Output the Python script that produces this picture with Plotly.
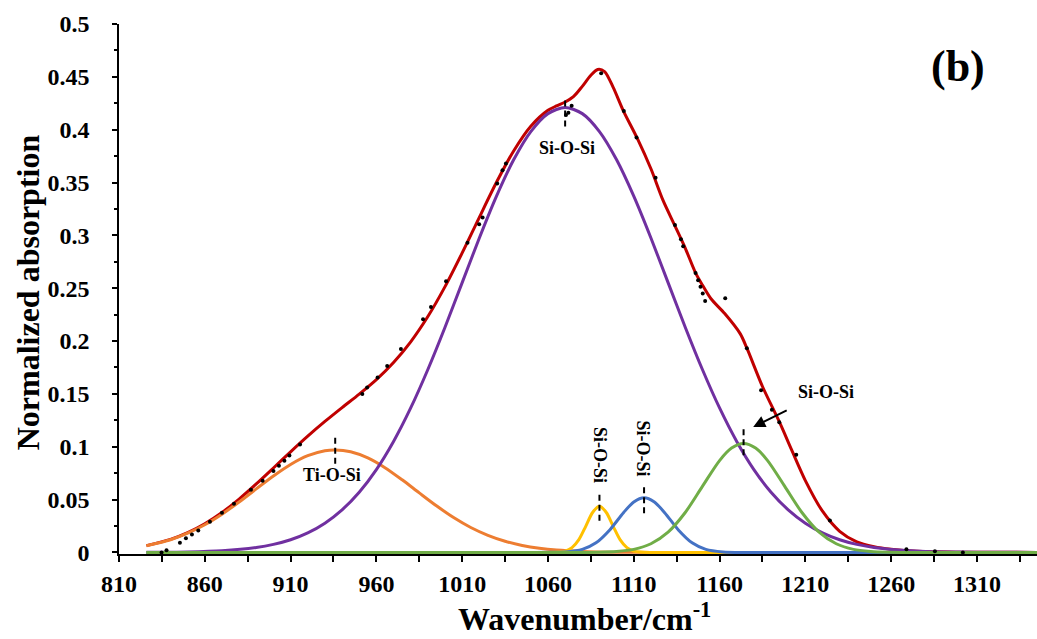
import plotly.graph_objects as go

# ---- measured spectrum (black points) ----
meas_wn = [834.8, 837.7, 845.5, 849.0, 852.5, 856.2, 863.0, 870.0, 877.0, 886.9,
           893.7, 900.0, 903.2, 906.4, 909.3, 915.5, 951.8, 954.6, 960.7, 966.3,
           974.3, 987.2, 991.8, 1000.6, 1013.1, 1019.9, 1021.9, 1030.4, 1033.5, 1035.5,
           1070.5, 1071.9, 1073.8, 1091.0, 1104.2, 1111.6, 1122.7, 1134.0, 1137.5, 1138.8,
           1146.0, 1147.5, 1148.9, 1150.2, 1151.6, 1163.3, 1175.9, 1184.2, 1190.5, 1194.8,
           1204.7, 1224.3, 1268.9, 1285.5, 1301.8]
meas_abs = [0.0, 0.002, 0.0092, 0.0133, 0.017, 0.0208, 0.029, 0.0376, 0.046, 0.0593,
            0.0679, 0.077, 0.082, 0.0868, 0.0918, 0.102, 0.150, 0.156, 0.1654, 0.1764,
            0.1925, 0.2206, 0.2323, 0.2566, 0.2929, 0.3106, 0.317, 0.349, 0.3617, 0.368,
            0.4138, 0.416, 0.4227, 0.4533, 0.4176, 0.3927, 0.3545, 0.3097, 0.2964, 0.2898,
            0.2645, 0.2576, 0.2513, 0.245, 0.238, 0.2405, 0.1932, 0.1534, 0.1351, 0.1231,
            0.0925, 0.0303, 0.003, 0.001, 0.0]

# ---- fitted envelope (red) ----
fit_wn = [826, 840, 850, 860, 870, 880, 890, 900, 910, 920, 930, 940, 950, 960, 970,
          980, 990, 1000, 1010, 1020, 1030, 1040, 1050, 1060, 1065, 1070, 1075, 1080,
          1085, 1089, 1093, 1098, 1104, 1112, 1120, 1127, 1134, 1140, 1146, 1150, 1155,
          1163, 1172, 1176, 1185, 1195, 1202, 1210, 1220, 1230, 1240, 1250, 1260, 1275,
          1300, 1345]
fit_abs = [0.0064, 0.0123, 0.0187, 0.0271, 0.0378, 0.0505, 0.0648, 0.0799, 0.0952, 0.110,
           0.1239, 0.137, 0.1498, 0.1635, 0.1797, 0.1993, 0.2232, 0.2515, 0.2834, 0.3171,
           0.3502, 0.3799, 0.4033, 0.4183, 0.4225, 0.4262, 0.4315, 0.4410, 0.4515, 0.457,
           0.455, 0.440, 0.4176, 0.392, 0.363, 0.3333, 0.309, 0.288, 0.2645, 0.253, 0.240,
           0.226, 0.207, 0.193, 0.157, 0.123, 0.097, 0.068, 0.039, 0.020, 0.010, 0.0055,
           0.003, 0.001, 0.0002, 0.0]

# ---- deconvoluted bands ----
ti_wn = [826, 840, 850, 860, 870, 880, 890, 900, 910, 920, 930, 936, 945, 955, 965, 975,
         985, 995, 1005, 1015, 1025, 1035, 1045, 1055, 1065, 1080, 1100, 1120, 1150, 1345]
ti_abs = [0.0063, 0.0120, 0.0182, 0.0262, 0.0362, 0.0477, 0.0601, 0.0723, 0.0832, 0.0915,
          0.0962, 0.0970, 0.0952, 0.0894, 0.0802, 0.0687, 0.0563, 0.0441, 0.0330, 0.0236,
          0.0162, 0.0106, 0.0066, 0.0039, 0.0022, 0.0009, 0.0002, 0.0, 0.0, 0.0]

si_main_wn = [826, 850, 870, 890, 900, 910, 920, 930, 940, 950, 960, 970, 980, 990, 1000,
              1010, 1020, 1030, 1040, 1050, 1060, 1070, 1080, 1090, 1100, 1110, 1120, 1130,
              1140, 1150, 1160, 1170, 1180, 1190, 1200, 1210, 1220, 1230, 1240, 1250, 1260,
              1280, 1300, 1320, 1345]
si_main_abs = [0.0001, 0.0005, 0.0016, 0.0047, 0.0076, 0.0120, 0.0185, 0.0277, 0.0403,
               0.0570, 0.0784, 0.1050, 0.1367, 0.1731, 0.2131, 0.2553, 0.2975, 0.3371,
               0.3715, 0.3982, 0.4152, 0.4210, 0.4152, 0.3982, 0.3715, 0.3371, 0.2975,
               0.2553, 0.2131, 0.1731, 0.1367, 0.1050, 0.0784, 0.0570, 0.0403, 0.0277,
               0.0185, 0.0120, 0.0076, 0.0047, 0.0028, 0.0009, 0.0003, 0.0001, 0.0]

si_1090_wn = [826, 1000, 1050, 1060, 1066, 1070, 1074, 1078, 1082, 1086, 1090, 1094, 1098,
              1102, 1106, 1110, 1114, 1120, 1130, 1200, 1345]
si_1090_abs = [0.0, 0.0, 0.0, 0.0, 0.0003, 0.0012, 0.0045, 0.0121, 0.0247, 0.0378, 0.0436,
               0.0378, 0.0247, 0.0121, 0.0045, 0.0012, 0.0003, 0.0, 0.0, 0.0, 0.0]

si_1116_wn = [826, 1000, 1050, 1062, 1070, 1080, 1088, 1096, 1104, 1110, 1116, 1122, 1128,
              1136, 1144, 1152, 1162, 1175, 1190, 1250, 1345]
si_1116_abs = [0.0, 0.0, 0.0, 0.0001, 0.0005, 0.0029, 0.0091, 0.0213, 0.0376, 0.0478,
               0.0518, 0.0478, 0.0376, 0.0213, 0.0091, 0.0029, 0.0005, 0.0, 0.0, 0.0, 0.0]

si_1174_wn = [826, 950, 1050, 1080, 1090, 1100, 1110, 1120, 1130, 1140, 1150, 1160, 1167,
              1174, 1181, 1188, 1198, 1208, 1218, 1228, 1238, 1248, 1258, 1270, 1290, 1345]
si_1174_abs = [0.0, 0.0, 0.0, 0.0, 0.0002, 0.0009, 0.0029, 0.0082, 0.0192, 0.0378, 0.0625,
               0.0869, 0.0987, 0.1030, 0.0987, 0.0869, 0.0625, 0.0378, 0.0192, 0.0082,
               0.0029, 0.0009, 0.0002, 0.0, 0.0, 0.0]

# ---- band position markers and labels ----
peak_wn = [936, 1070, 1090, 1116, 1174]
peak_lo = [0.084, 0.403, 0.030, 0.037, 0.092]
peak_hi = [0.109, 0.430, 0.056, 0.062, 0.117]

label_text = ["Ti-O-Si", "Si-O-Si", "Si-O-Si", "Si-O-Si", "Si-O-Si"]
label_wn = [934, 1071, 1090, 1115.5, 1222]
label_abs = [0.073, 0.3826, 0.0918, 0.0982, 0.1518]
label_angle = [0, 0, 90, 90, 0]

x_ticks = [810, 860, 910, 960, 1010, 1060, 1110, 1160, 1210, 1260, 1310]

SERIF = "Liberation Serif, Times New Roman, DejaVu Serif, serif"
RED, ORANGE, PURPLE = "#C00000", "#ED7D31", "#7030A0"
YELLOW, BLUE, GREEN = "#FFC000", "#4472C4", "#70AD47"


def bold(size):
    return dict(family=SERIF, size=size, color="black", weight="bold")


fig = go.Figure()

curves = [
    (fit_wn, fit_abs, RED),
    (ti_wn, ti_abs, ORANGE),
    (si_main_wn, si_main_abs, PURPLE),
    (si_1090_wn, si_1090_abs, YELLOW),
    (si_1116_wn, si_1116_abs, BLUE),
    (si_1174_wn, si_1174_abs, GREEN),
]
for wn, ab, col in curves:
    fig.add_trace(go.Scatter(
        x=wn, y=ab, mode="lines",
        line=dict(color=col, width=3, shape="spline", smoothing=0.8),
        cliponaxis=False, hoverinfo="skip", showlegend=False))

fig.add_trace(go.Scatter(
    x=meas_wn, y=meas_abs, mode="markers",
    marker=dict(color="black", size=4),
    cliponaxis=False, showlegend=False))

for xw, y0, y1 in zip(peak_wn, peak_lo, peak_hi):
    fig.add_shape(type="line", xref="x", yref="y", x0=xw, x1=xw, y0=y0, y1=y1,
                  line=dict(color="black", width=2, dash="6px,4px"))

for t, xw, ya, ang in zip(label_text, label_wn, label_abs, label_angle):
    fig.add_annotation(x=xw, y=ya, xref="x", yref="y", text=t, showarrow=False,
                       textangle=ang, xanchor="center", yanchor="middle",
                       font=bold(18))

# arrow pointing at the 1174 band
fig.add_annotation(x=1179.6, y=0.1187, ax=1200, ay=0.1351, xref="x", yref="y",
                   axref="x", ayref="y", text="", showarrow=True, arrowhead=2,
                   arrowsize=1.2, arrowwidth=2, arrowcolor="black",
                   standoff=0, startstandoff=0)

# axis titles and panel tag
fig.add_annotation(xref="paper", yref="paper", x=-0.099, y=0.494,
                   xanchor="center", yanchor="middle",
                   text="Normalized absorption", showarrow=False, textangle=-90,
                   font=bold(32))
fig.add_annotation(xref="paper", yref="paper", x=0.5076, y=-0.119,
                   xanchor="center", yanchor="middle",
                   text="Wavenumber/cm<sup>-1</sup>", showarrow=False,
                   font=bold(32))
fig.add_annotation(xref="paper", yref="paper", x=0.914, y=0.919,
                   xanchor="center", yanchor="middle",
                   text="(b)", showarrow=False, font=bold(44))

fig.update_xaxes(
    range=[810, 1345], tickmode="array", tickvals=x_ticks,
    ticks="outside", ticklen=6, tickwidth=1.5, tickcolor="black",
    minor=dict(dtick=25, tick0=810, ticks="outside", ticklen=6, tickwidth=1.5,
               tickcolor="black"),
    showline=True, linecolor="black", linewidth=1.5,
    showgrid=False, zeroline=False, tickfont=bold(24),
    ticklabelstandoff=1, layer="below traces")
# a hair of room below zero keeps the band baselines from being clipped
fig.update_yaxes(
    range=[-0.0015, 0.5], tickvals=[i * 0.05 for i in range(11)],
    ticktext=["0", "0.05", "0.1", "0.15", "0.2", "0.25", "0.3", "0.35", "0.4",
              "0.45", "0.5"],
    ticks="outside", ticklen=5, tickwidth=1.5, tickcolor="black",
    minor=dict(tickvals=[0.025 + i * 0.05 for i in range(10)], ticks="outside",
               ticklen=3, tickwidth=1.5, tickcolor="black"),
    showline=True, linecolor="black", linewidth=1.5,
    showgrid=False, zeroline=False, tickfont=bold(24),
    ticklabelstandoff=18, layer="below traces")

fig.update_layout(
    width=1037, height=639,
    margin=dict(l=119, r=0, t=24, b=85),
    paper_bgcolor="white", plot_bgcolor="white",
    showlegend=False)

fig.write_html("out.html")
